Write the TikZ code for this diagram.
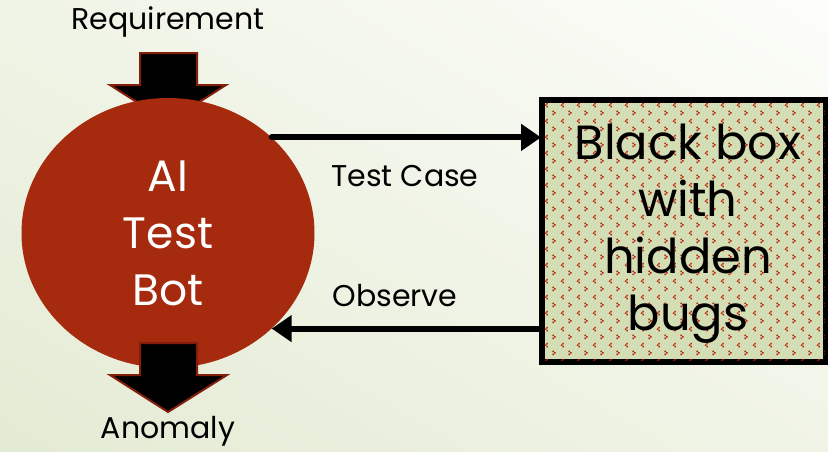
\documentclass[tikz,border=0pt]{standalone}
\usepackage{fontspec}
\setmainfont{Poppins}
\usetikzlibrary{shapes.geometric,patterns,arrows.meta}
\definecolor{bgA}{RGB}{252,253,249}
\definecolor{bgB}{RGB}{228,235,212}
\definecolor{botred}{RGB}{166,42,14}
\definecolor{edgered}{RGB}{130,30,10}
\definecolor{boxgreen}{RGB}{212,222,180}
\definecolor{dotred}{RGB}{190,30,10}
\pgfdeclarepatternformonly{bugdots}{\pgfpointorigin}{\pgfpoint{16pt}{16pt}}{\pgfpoint{16pt}{16pt}}{%
  \pgfpathrectangle{\pgfpoint{2.6pt}{12.2pt}}{\pgfpoint{1.6pt}{1.6pt}}%
  \pgfpathrectangle{\pgfpoint{1pt}{10.6pt}}{\pgfpoint{1.6pt}{1.6pt}}%
  \pgfpathrectangle{\pgfpoint{2.6pt}{9pt}}{\pgfpoint{1.6pt}{1.6pt}}%
  \pgfpathrectangle{\pgfpoint{9pt}{4.2pt}}{\pgfpoint{1.6pt}{1.6pt}}%
  \pgfpathrectangle{\pgfpoint{10.6pt}{2.6pt}}{\pgfpoint{1.6pt}{1.6pt}}%
  \pgfpathrectangle{\pgfpoint{9pt}{1pt}}{\pgfpoint{1.6pt}{1.6pt}}%
  \pgfusepath{fill}}
\tikzset{
  lbl/.style={font=\fontsize{30}{36}\selectfont, text=black, inner sep=0pt},
  blockarrow/.style={fill=black, draw=edgered, line width=2pt, line join=miter},
  flow/.style={line width=6pt, -{Triangle[length=20pt,width=26pt]}, line cap=round}
}
\begin{document}
\begin{tikzpicture}[x=1pt,y=-1pt]
\useasboundingbox (0,0) rectangle (828,451);
\shade[shading=axis, top color=bgA, bottom color=bgB, shading angle=-30] (-100,-100) rectangle (928,551);
% block arrows
\path[blockarrow] (140,53) -- (197,53) -- (197,85) -- (226,85) -- (168,122) -- (110,85) -- (140,85) -- cycle;
\node[ellipse, fill=botred, minimum width=293pt, minimum height=270pt, inner sep=0pt,
  text=white, align=center, font=\fontsize{44}{57}\selectfont] (ai) at (168,233) {AI\\Test\\Bot};
\path[blockarrow] (140,343) -- (197,343) -- (197,375) -- (227,375) -- (168,412) -- (110,375) -- (140,375) -- cycle;
\node[lbl] (req) at (168,22) {Requirement};
\node[lbl] (anom) at (168,431) {Anomaly};
% black box
\node[rectangle, draw=black, line width=4pt, fill=boxgreen, minimum width=282pt, minimum height=260pt,
  inner sep=0pt] (box) at (684,231) {};
\fill[pattern=bugdots, pattern color=dotred] (box.south west) rectangle (box.north east);
\draw[line width=4pt] (box.south west) rectangle (box.north east);
\node[align=center, font=\fontsize{48}{57}\selectfont, text=black] (boxtxt) at ([xshift=4pt,yshift=-3pt]box.center) {Black box\\with\\hidden\\bugs};
% flows
\draw[flow] (ai.north east) -- (ai.north east -| box.west);
\draw[flow] (ai.south east -| box.west) -- (ai.south east);
\node[lbl] (tc) at (405,176) {Test Case};
\node[lbl] (obs) at (395,296) {Observe};
\end{tikzpicture}
\end{document}
